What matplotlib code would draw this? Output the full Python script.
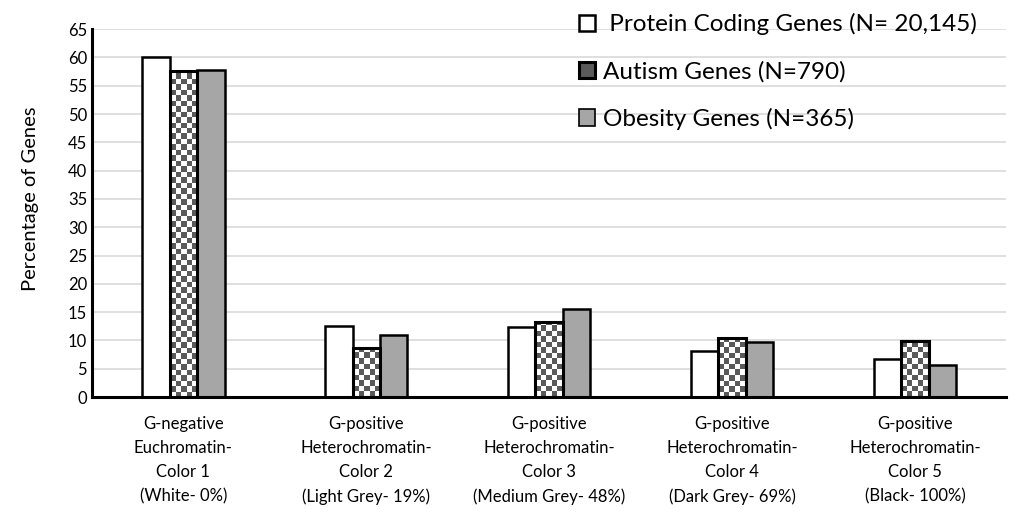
import matplotlib
matplotlib.use("Agg")
import matplotlib.pyplot as plt
from matplotlib.patches import Patch
import numpy as np

plt.rcParams['font.family'] = ['Lato', 'DejaVu Sans']

categories = ["G-negative\nEuchromatin-\nColor 1\n(White- 0%)",
              "G-positive\nHeterochromatin-\nColor 2\n(Light Grey- 19%)",
              "G-positive\nHeterochromatin-\nColor 3\n(Medium Grey- 48%)",
              "G-positive\nHeterochromatin-\nColor 4\n(Dark Grey- 69%)",
              "G-positive\nHeterochromatin-\nColor 5\n(Black- 100%)"]
protein = [60.0, 12.6, 12.3, 8.1, 6.8]
autism = [57.6, 8.7, 13.2, 10.4, 9.9]
obesity = [57.8, 10.9, 15.5, 9.8, 5.6]
labels = [" Protein Coding Genes (N= 20,145)", "Autism Genes (N=790)", "Obesity Genes (N=365)"]
yticks = list(range(0, 70, 5))

fig = plt.figure(figsize=(10.24, 5.21), dpi=100)
ax = fig.add_axes([0.0898, 0.238, 0.893, 0.706])

x = np.arange(len(categories))
w = 0.15

ax.bar(x - w, protein, w, color="white", edgecolor="black", linewidth=1.8, zorder=3)
b_aut = ax.bar(x, autism, w, color="none", edgecolor="black", linewidth=2.2, zorder=4)
ax.bar(x + w, obesity, w, color="#a6a6a6", edgecolor="black", linewidth=1.8, zorder=3)

# checker fill for autism bars
sq_x = 0.03
sq_y = 0.97
for r in b_aut:
    x0, y0 = r.get_x(), r.get_y()
    bw, bh = r.get_width(), r.get_height()
    nc = int(np.ceil(bw / sq_x))
    nr = int(np.ceil(bh / sq_y))
    board = (np.add.outer(np.arange(nr), np.arange(nc)) % 2).astype(float)
    img = ax.imshow(board, cmap=matplotlib.colors.ListedColormap(["white", "#5a5a5a"]),
                    extent=(x0, x0 + nc * sq_x, y0, y0 + nr * sq_y), origin="lower",
                    aspect="auto", interpolation="nearest", zorder=2)
    img.set_clip_path(r)

ax.set_xlim(-0.5, len(categories) - 0.5)
ax.set_ylim(0, 65)
ax.set_yticks(yticks)
ax.set_xticks(x)
ax.set_xticklabels(categories, fontsize=11.8, linespacing=1.6)
ax.tick_params(axis="both", length=0, labelsize=12)
ax.tick_params(axis="x", pad=14)
ax.yaxis.grid(True, color="#d9d9d9", linewidth=1.2, zorder=0)
ax.set_axisbelow(True)
for s in ["top", "right"]:
    ax.spines[s].set_visible(False)
for s in ["left", "bottom"]:
    ax.spines[s].set_linewidth(2.2)
    ax.spines[s].set_zorder(5)
ax.set_ylabel("Percentage of Genes", fontsize=14.5)
ax.yaxis.set_label_coords(-0.058, 0.54)

handles = [Patch(facecolor="white", edgecolor="black", linewidth=1.8),
           Patch(facecolor="#5a5a5a", edgecolor="black", linewidth=2.2),
           Patch(facecolor="#a6a6a6", edgecolor="black", linewidth=1.2)]
leg = fig.legend(handles, labels, loc="upper left", bbox_to_anchor=(0.556, 0.993),
                 frameon=False, fontsize=17.5, labelspacing=1.05, handlelength=0.65,
                 handleheight=0.65, handletextpad=0.35, borderaxespad=0)

fig.savefig("out.png", dpi=100)
